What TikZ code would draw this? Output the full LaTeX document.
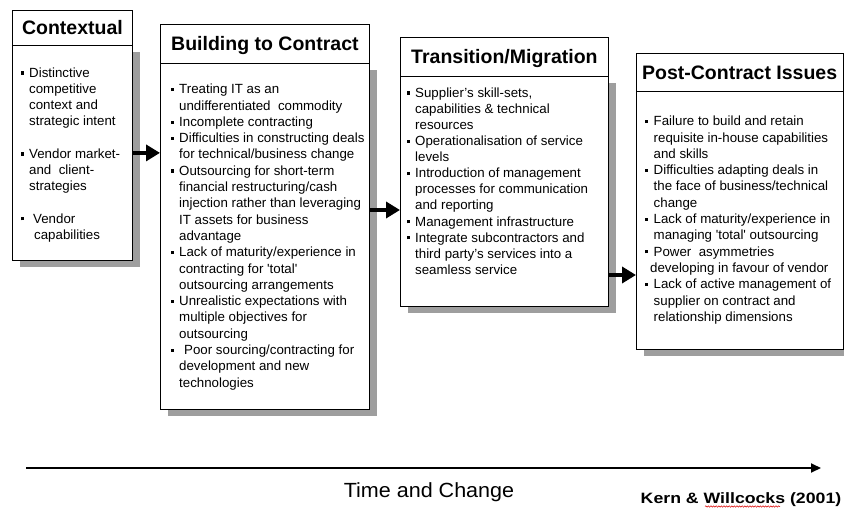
\documentclass[tikz,border=0pt]{standalone}
\usepackage{fontspec}
\setmainfont{Liberation Sans}
\usetikzlibrary{arrows.meta,shadows,decorations.pathmorphing}

\definecolor{shadowgray}{gray}{0.62}

% font helpers
\newcommand\titlefont{\fontsize{19.5}{22}\selectfont\bfseries}
\newcommand\txtfont[1]{\fontsize{13.3}{#1}\selectfont}
% square bullet and hanging indent for continuation lines
\newcommand\bl{\makebox[8.5pt][l]{\raisebox{2.7pt}{\rule{3.1pt}{3.1pt}}}}
\newcommand\ct{\hspace*{8.5pt}}
\newcommand\firstline{\rule{0pt}{10pt}}

\tikzset{
  box/.style={draw, line width=0.8pt, fill=white, inner sep=0pt, anchor=north west},
  bodybox/.style={box, drop shadow={shadow xshift=8pt, shadow yshift=-7pt,
      fill=shadowgray, opacity=1}},
  titlebox/.style={box, font=\titlefont, text height=14pt, text depth=0pt},
  bodytext/.style={anchor=north west, inner sep=0pt, align=left},
  stagearrow/.style={line width=3.6pt, -{Triangle[length=14pt,width=16pt]}},
  timearrow/.style={line width=2pt, -{Triangle[length=10pt,width=9pt]}},
  squiggle/.style={red!85!black, line width=0.5pt, decorate,
      decoration={snake, amplitude=0.7pt, segment length=2.6pt}},
}

\begin{document}
\begin{tikzpicture}[x=1pt, y=-1pt]
\useasboundingbox (0,0) rectangle (844,508);
\clip (0,0) rectangle (844,508);

% ---- stage 1: Contextual
\node[bodybox, minimum width=120pt, minimum height=215pt] (b1) at (12,45) {};
\node[titlebox, minimum width=120pt, minimum height=35pt] (t1) at (12,10) {Contextual};
\node[bodytext, font=\txtfont{16.2}] (x1) at (20.5,67) {%
\firstline\bl Distinctive\\
\ct competitive\\
\ct context and\\
\ct strategic intent\\
\mbox{}\\
\bl Vendor market-\\
\ct and\ \ client-\\
\ct strategies\\
\mbox{}\\
\bl\hspace*{4pt}Vendor\\
\ct\hspace*{5pt}capabilities};

% ---- stage 2: Building to Contract
\node[bodybox, minimum width=209pt, minimum height=346pt] (b2) at (160,63) {};
\node[titlebox, minimum width=209pt, minimum height=39pt] (t2) at (160,24) {Building to Contract};
\node[bodytext, font=\txtfont{16.3}] (x2) at (170.5,83.5) {%
\firstline\bl Treating IT as an\\
\ct undifferentiated\ \ commodity\\
\bl Incomplete contracting\\
\bl Difficulties in constructing deals\\
\ct for technical/business change\\
\bl Outsourcing for short-term\\
\ct financial restructuring/cash\\
\ct injection rather than leveraging\\
\ct IT assets for business\\
\ct advantage\\
\bl Lack of maturity/experience in\\
\ct contracting for \textquotesingle total\textquotesingle\\
\ct outsourcing arrangements\\
\bl Unrealistic expectations with\\
\ct multiple objectives for\\
\ct outsourcing\\
\bl\hspace*{5pt}Poor sourcing/contracting for\\
\ct development and new\\
\ct technologies};

% ---- stage 3: Transition/Migration
\node[bodybox, minimum width=208pt, minimum height=230pt] (b3) at (400,76) {};
\node[titlebox, minimum width=208pt, minimum height=39pt] (t3) at (400,37) {Transition/Migration};
\node[bodytext, font=\txtfont{16.1}] (x3) at (406.5,87) {%
\firstline\bl Supplier's skill-sets,\\
\ct capabilities \& technical\\
\ct resources\\
\bl Operationalisation of service\\
\ct levels\\
\bl Introduction of management\\
\ct processes for communication\\
\ct and reporting\\
\bl Management infrastructure\\
\bl Integrate subcontractors and\\
\ct third party's services into a\\
\ct seamless service};

% ---- stage 4: Post-Contract Issues
\node[bodybox, minimum width=206.5pt, minimum height=258pt] (b4) at (636,91) {};
\node[titlebox, minimum width=206.5pt, minimum height=38pt] (t4) at (636,53) {Post-Contract Issues};
\node[bodytext, font=\txtfont{16.3}] (x4) at (645,115.5) {%
\firstline\bl Failure to build and retain\\
\ct requisite in-house capabilities\\
\ct and skills\\
\bl Difficulties adapting deals in\\
\ct the face of business/technical\\
\ct change\\
\bl Lack of maturity/experience in\\
\ct managing \textquotesingle total\textquotesingle\ outsourcing\\
\bl Power\ \ asymmetries\\
\hspace*{5pt}developing in favour of vendor\\
\bl Lack of active management of\\
\ct supplier on contract and\\
\ct relationship dimensions};

% ---- arrows between stages
\coordinate (y2) at (0,210);
\coordinate (y3) at (0,275);
\draw[stagearrow] (b1.east) -- (b2.west |- b1.east);
\draw[stagearrow] (b2.east |- y2) -- (b3.west |- y2);
\draw[stagearrow] (b3.east |- y3) -- (b4.west |- y3);

% ---- time axis
\coordinate (ts) at (26,468);
\coordinate (te) at (821,468);
\draw[timearrow] (ts) -- (te);
\node[anchor=base, inner sep=0pt, font=\fontsize{20.5}{24}\selectfont] (tc) at (429,497)
  {\scalebox{1.05}[1]{Time and Change}};
\node[anchor=base, inner sep=0pt, font=\fontsize{15}{18}\selectfont\bfseries] (kw) at (741,503.3)
  {\scalebox{1.18}[1]{Kern \& Willcocks (2001)}};
\coordinate (sq0) at (705,506.5);
\coordinate (sq1) at (780,506.5);
\draw[squiggle] (sq0) -- (sq1);
\end{tikzpicture}
\end{document}
